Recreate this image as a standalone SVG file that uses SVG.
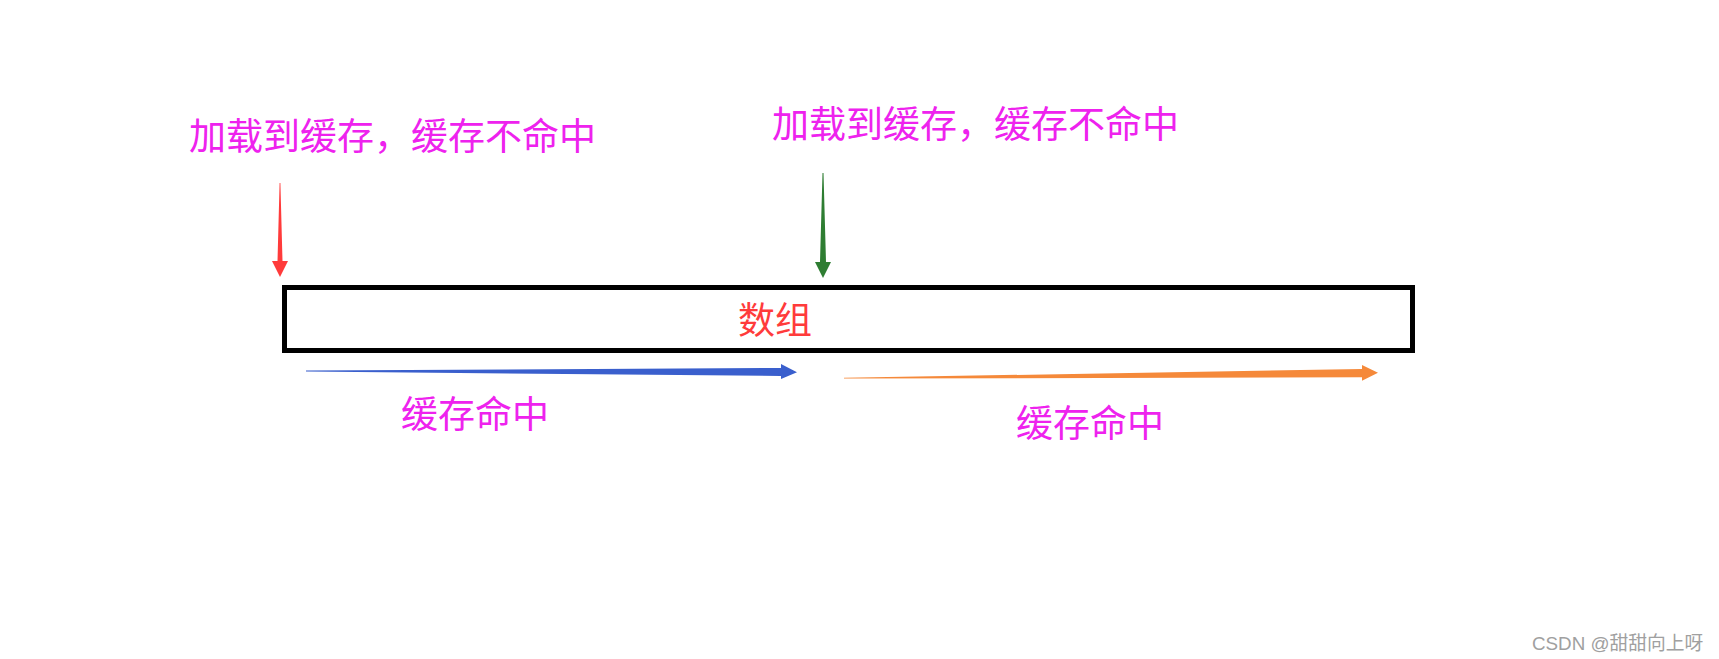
<svg xmlns="http://www.w3.org/2000/svg" width="1719" height="659" viewBox="0 0 1719 659">
<style>
.lbl{font-family:"Noto Sans CJK SC","Noto Sans",sans-serif;font-size:37px;fill:#ee22ee}
.hit{font-family:"Noto Sans CJK SC","Noto Sans",sans-serif;font-size:37px;fill:#ee22ee}
.wm{font-family:"Liberation Sans","Noto Sans CJK SC",sans-serif;font-size:18.8px;fill:#a0a0a0}
</style>
<rect width="1719" height="659" fill="#ffffff"/>
<g id="array">
<rect x="284.5" y="287.5" width="1128" height="63" fill="none" stroke="#000" stroke-width="5"/>
<text x="738" y="334" font-family="Noto Sans CJK SC, sans-serif" font-size="37" fill="#ff3b3b">数组</text>
</g>
<g id="label-miss1"><text class="lbl" x="189" y="150">加载到缓存，缓存不命中</text></g>
<g id="label-miss2"><text class="lbl" x="772" y="138">加载到缓存，缓存不命中</text></g>
<g id="label-hit1"><text class="hit" x="401" y="428">缓存命中</text></g>
<g id="label-hit2"><text class="hit" x="1016" y="437">缓存命中</text></g>
<g id="connectors">
<polygon fill="#ff3b3b" points="279.6,183 280.4,183 282.5,261 288,261 280,277 272,261 277.5,261"/>
<polygon fill="#2e7d32" points="822.5,173 823.5,173 826,262 831,262 823,278 815,262 820,262"/>
<polygon fill="#3a5fcd" points="306,370.5 781,368 781,364 797,372.3 781,379 781,376 306,371.5"/>
<polygon fill="#f5893a" points="844,377.8 1362,369 1362,365 1378,372.7 1362,380.7 1362,377.3 844,378.6"/>
</g>
<text class="wm" x="1532" y="650">CSDN @甜甜向上呀</text>
</svg>
